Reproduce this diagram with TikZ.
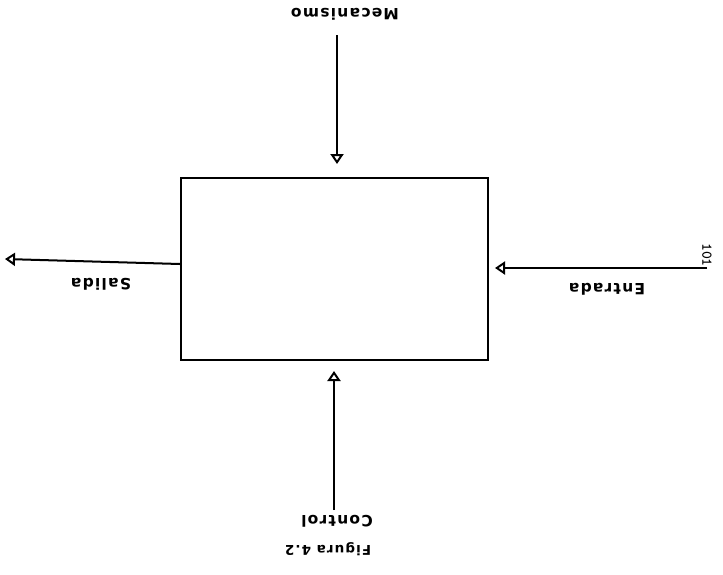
\documentclass[tikz,border=0pt]{standalone}
\usepackage{fontspec}
\newfontfamily\labelfont[LetterSpace=8]{DejaVu Sans}
\usetikzlibrary{arrows.meta}

\begin{document}
\begin{tikzpicture}[
  x=1pt, y=-1pt,
  every node/.style={inner sep=1pt},
  block/.style={draw, line width=2pt, minimum width=307pt, minimum height=182pt},
  arrow/.style={draw, line width=2pt,
    -{Triangle[open, length=10pt, width=13pt, line width=2pt]}},
  lbl/.style={rotate=180, font=\labelfont\bfseries\fontsize{15.5}{17}\selectfont},
  figlbl/.style={rotate=180, font=\labelfont\bfseries\fontsize{13.5}{15}\selectfont},
  pagenum/.style={rotate=-90, font=\ttfamily\bfseries\fontsize{15}{17}\selectfont}]

  % ---- the page, kept at the scan's size -----------------------------------
  \useasboundingbox (0,0) rectangle (723,574);

  % ---- the activity box ----------------------------------------------------
  \node[block] (box) at (334.5,269) {};

  % ---- free ends of the four arrows ----------------------------------------
  \coordinate (mtop) at (337,35);
  \coordinate (cbot) at (334,510);
  \coordinate (sout) at (5,259);
  \coordinate (ein) at (707,268);

  % ---- the four arrows -----------------------------------------------------
  \draw[arrow, shorten >=13pt] (mtop) -- (mtop |- box.north);
  \draw[arrow, shorten >=10pt] (cbot) -- (cbot |- box.south);
  \draw[arrow] (box.west) ++(0,-5) -- (sout);
  \draw[arrow, shorten >=6pt] (ein) -- (ein -| box.east);

  % ---- labels, printed upside down as on the scan --------------------------
  \node[lbl] (mecanismo) at (345,14) {Mecanismo};
  \node[lbl] (salida) at (101,284) {Salida};
  \node[lbl] (entrada) at (607,289) {Entrada};
  \node[lbl] (control) at (337,521) {Control};
  \node[figlbl] (figura) at (328,549) {Figura 4.2};
  \node[pagenum] (pagina) at (707,255) {101};
\end{tikzpicture}
\end{document}
